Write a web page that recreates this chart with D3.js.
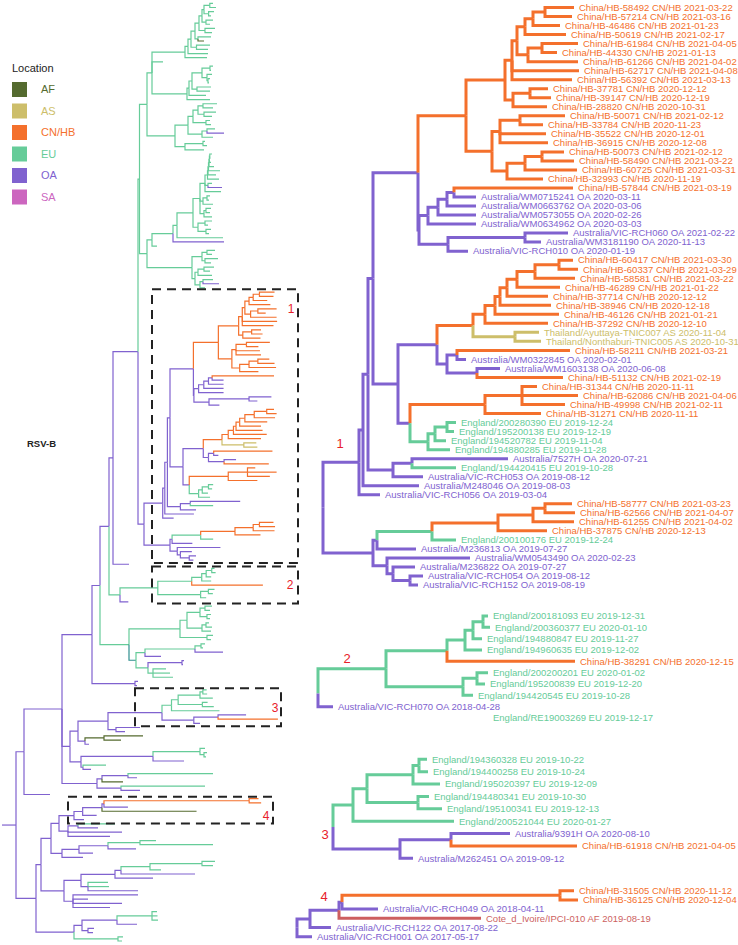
<!DOCTYPE html>
<html><head><meta charset="utf-8">
<script src="https://cdn.jsdelivr.net/npm/d3@7"></script>
<style>body{margin:0;background:#fff}svg{display:block}text{font-family:"Liberation Sans",Arial,Helvetica,sans-serif}</style>
</head><body><svg id="chart" width="738" height="945"></svg>
<script>
// ---------------- DATA ----------------
const legendKeys = ["AF","AS","CN/HB","EU","OA","SA"];
const legendColors = ["#556b2f","#cdbe6a","#f4702c","#66cc99","#8062cf","#cc66bf"];
const locNames = {F:"AF",A:"AS",C:"CN/HB",E:"EU",O:"OA",S:"SA",T:"EU"};

// clade rows: [id, parent, location, divergence from clade root, name, date]
const clade1Nodes = [
 ["R1","","O",0],["A","R1","O",36],["A2","A","O",40],["A3","A2","O",45],["A4","A3","O",50],
 ["C1","A4","O",95],["C1a","C1","C",143],["C1a1","C1a","C",182],["n1_9","C1a1","C",189],
 ["n1_7","n1_9","C",194],["n1_4","n1_7","C",202],["n1_3","n1_4","C",210],["n1_2","n1_3","C",222],
 ["l01","n1_2","C",251,"China/HB-58492","2021-03-22"],["l02","n1_2","C",249,"China/HB-57214","2021-03-16"],
 ["l03","n1_3","C",237,"China/HB-46486","2021-01-23"],["l04","n1_4","C",243,"China/HB-50619","2021-02-17"],
 ["n5_7","n1_7","C",205],["n5_6","n5_7","C",219],
 ["l05","n5_6","C",255,"China/HB-61984","2021-04-05"],["l06","n5_6","C",234,"China/HB-44330","2021-01-13"],
 ["l07","n5_7","C",255,"China/HB-61266","2021-04-02"],["l08","n1_9","C",256,"China/HB-62717","2021-04-08"],
 ["l09","n1_9","C",249,"China/HB-56392","2021-03-13"],
 ["n10_12","C1a1","C",190],["n10_11","n10_12","C",207],
 ["l10","n10_11","C",225,"China/HB-37781","2020-12-12"],["l11","n10_11","C",228,"China/HB-39147","2020-12-19"],
 ["l12","n10_12","C",224,"China/HB-28820","2020-10-31"],
 ["C1a2","C1a","C",169],["n13_16","C1a2","C",177],["n13_14","n13_16","C",197],
 ["l13","n13_14","C",242,"China/HB-50071","2021-02-12"],["l14","n13_14","C",220,"China/HB-33784","2020-11-23"],
 ["l15","n13_16","C",223,"China/HB-35522","2020-12-01"],["l16","n13_16","C",225,"China/HB-36915","2020-12-08"],
 ["n17_20","C1a2","C",184],["n17_19","n17_20","C",202],["n17_18","n17_19","C",219],
 ["l17","n17_18","C",241,"China/HB-50073","2021-02-12"],["l18","n17_18","C",251,"China/HB-58490","2021-03-22"],
 ["l19","n17_19","C",254,"China/HB-60725","2021-03-31"],["l20","n17_20","C",220,"China/HB-32993","2020-11-19"],
 ["C1b","C1","O",96],["n21_25","C1b","O",105],["n21_24","n21_25","O",115],["n21_23","n21_24","O",124],["n21_22","n21_23","O",131],
 ["l21","n21_22","C",250,"China/HB-57844","2021-03-19"],["l22","n21_22","O",153,"Australia/WM0715241","2020-03-11"],
 ["l23","n21_23","O",153,"Australia/WM0663762","2020-03-06"],["l24","n21_24","O",153,"Australia/WM0573055","2020-02-26"],
 ["l25","n21_25","O",153,"Australia/WM0634962","2020-03-03"],
 ["n26_28","C1b","O",125],["n26_27","n26_28","O",202],
 ["l26","n26_27","O",245,"Australia/VIC-RCH060","2021-02-22"],["l27","n26_27","O",218,"Australia/WM3181190","2020-11-13"],
 ["l28","n26_28","O",145,"Australia/VIC-RCH010","2020-01-19"],
 ["C2","A4","O",75],["C2a","C2","O",114],["C2a1","C2a","C",150],["n29_36","C2a1","C",162],["n29_35","n29_36","C",172],
 ["n29_34","n29_35","C",177],["n29_33","n29_34","C",184],["n29_32","n29_33","C",194],["n29_31","n29_32","C",212],["n29_30","n29_31","C",236],
 ["l29","n29_30","C",250,"China/HB-60417","2021-03-30"],["l30","n29_30","C",255,"China/HB-60337","2021-03-29"],
 ["l31","n29_31","C",252,"China/HB-58581","2021-03-22"],["l32","n29_32","C",237,"China/HB-46289","2021-01-22"],
 ["l33","n29_33","C",225,"China/HB-37714","2020-12-12"],["l34","n29_34","C",228,"China/HB-38946","2020-12-18"],
 ["l35","n29_35","C",236,"China/HB-46126","2021-01-21"],["l36","n29_36","C",225,"China/HB-37292","2020-12-10"],
 ["nTh","C2a1","A",192],
 ["l37","nTh","A",216,"Thailand/Ayuttaya-TNIC007","2020-11-04"],["l38","nTh","A",218,"Thailand/Nonthaburi-TNIC005","2020-10-31"],
 ["C2a2","C2a","O",124],["n39_40","C2a2","O",134],
 ["l39","n39_40","C",247,"China/HB-58211","2021-03-21"],["l40","n39_40","O",143,"Australia/WM0322845","2020-02-01"],
 ["n41_42","C2a2","O",154],
 ["l41","n41_42","O",177,"Australia/WM1603138","2020-06-08"],["l42","n41_42","C",240,"China/HB-51132","2021-02-19"],
 ["C2b","C2","O",87],["C2b1","C2b","C",162],["n43_45","C2b1","C",199],
 ["l43","n43_45","C",214,"China/HB-31344","2020-11-11"],["l44","n43_45","C",255,"China/HB-62086","2021-04-06"],
 ["l45","n43_45","C",242,"China/HB-49998","2021-02-11"],["l46","C2b1","C",218,"China/HB-31271","2020-11-11"],
 ["C2b2","C2b","E",105],["n47_49","C2b2","E",112],["n47_48","n47_49","E",124],
 ["l47","n47_48","E",133,"England/200280390","2019-12-24"],["l48","n47_48","E",131,"England/195200138","2019-12-19"],
 ["l49","n47_49","E",123,"England/194520782","2019-11-04"],["l50","C2b2","E",127,"England/194880285","2019-11-28"],
 ["X","A3","O",70],["X1","X","O",89],
 ["l51","X1","O",185,"Australia/7527H","2020-07-21"],["l52","X1","E",133,"England/194420415","2019-10-28"],
 ["l53","X","O",100,"Australia/VIC-RCH053","2019-08-12"],
 ["l54","A2","O",96,"Australia/M248046","2019-08-03"],
 ["l55","A","O",57,"Australia/VIC-RCH056","2019-03-04"],
 ["B","R1","O",50],["B1","B","O",54],["B1a","B1","E",109],["n56_59","B1a","C",175],["n56_58","n56_59","C",210],["n56_57","n56_58","C",222],
 ["l56","n56_57","C",249,"China/HB-58777","2021-03-23"],["l57","n56_57","C",252,"China/HB-62566","2021-04-07"],
 ["l58","n56_58","C",251,"China/HB-61255","2021-04-02"],["l59","n56_59","C",224,"China/HB-37875","2020-12-13"],
 ["l60","B1a","E",133,"England/200100176","2019-12-24"],["l61","B1","O",93,"Australia/M236813","2019-07-27"],
 ["B2","B","O",64],["l62","B2","O",147,"Australia/WM0543490","2020-02-23"],
 ["n63_65","B2","O",70],["l63","n63_65","O",92,"Australia/M236822","2019-07-27"],
 ["n64_65","n63_65","O",87],
 ["l64","n64_65","O",100,"Australia/VIC-RCH054","2019-08-12"],["l65","n64_65","O",95,"Australia/VIC-RCH152","2019-08-19"]
];

const clade2Nodes = [
 ["R2","","E",0],["S2a","R2","E",68],["m447","S2a","E",129],["m465","m447","E",147],["m473","m465","E",155],["m483","m473","E",165],
 ["k1","m483","E",170,"England/200181093","2019-12-31"],["k2","m483","E",172,"England/200360377","2020-01-10"],
 ["k3","m473","E",164,"England/194880847","2019-11-27"],["k4","m465","E",164,"England/194960635","2019-12-02"],
 ["k5","m447","C",257,"China/HB-38291","2020-12-15"],
 ["m463","S2a","E",145],["m477","m463","E",159],
 ["k6","m477","E",170,"England/200200201","2020-01-02"],["k7","m477","E",167,"England/195200839","2019-12-20"],
 ["k8","m463","E",155,"England/194420545","2019-10-28"],
 ["k9","R2","O",15,"Australia/VIC-RCH070","2018-04-28"],
 ["k10","R2","!E",170,"England/RE19003269","2019-12-17"]
];

const clade3Nodes = [
 ["R3","","O",0],["S3a","R3","E",20],["p367","S3a","E",34],["p413","p367","E",80],["p419","p413","E",86],
 ["j1","p419","E",94,"England/194360328","2019-10-22"],["j2","p419","E",95,"England/194400258","2019-10-24"],
 ["j3","p413","E",107,"England/195020397","2019-12-09"],
 ["p418","p367","E",85],
 ["j4","p418","E",96,"England/194480341","2019-10-30"],["j5","p418","E",109,"England/195100341","2019-12-13"],
 ["j6","S3a","E",121,"England/200521044","2020-01-27"],
 ["S3b","R3","O",67],["p451","S3b","O",118],
 ["j7","p451","O",177,"Australia/9391H","2020-08-10"],["j8","p451","C",244,"China/HB-61918","2021-04-05"],
 ["j9","S3b","O",80,"Australia/M262451","2019-09-12"]
];

const clade4Nodes = [
 ["R4","","O",0],["S4a","R4","O",13],["S4b","S4a","O",42],["S4c","S4b","O",45],["q12","S4c","C",263],
 ["h1","q12","C",277,"China/HB-31505","2020-11-12"],["h2","q12","C",281,"China/HB-36125","2020-12-04"],
 ["h3","S4c","O",81,"Australia/VIC-RCH049","2018-04-11"],
 ["h4","S4b","F",184,"Cote_d_Ivoire/IPCI-010","2019-08-19"],
 ["h5","S4a","O",34,"Australia/VIC-RCH122","2017-08-22"],
 ["h6","R4","O",15,"Australia/VIC-RCH001","2017-05-17"]
];

// full RSV-B tree (newick, location code + cumulative divergence; #n = clade n)
const nwG1 = "((((((((E:213,E:216)E:209.8,(E:214,E:211)E:208.6)E:204,(E:213,E:210)E:206)E:202,(E:215,E:212)E:205)E:199,(E:211,F:204)E:198)E:195,(E:210,E:208)E:196.5)E:191,E:208)E:188,E:207)E:185";
const nwG2 = "(((((E:213,E:211)E:210,(E:212,(E:210,E:209)E:208)E:207)E:202,(E:211,E:210)E:197)E:192,E:206)E:189,E:210)E:187";
const nwG3 = "(((((E:217,E:213)E:203,(E:216,E:212)E:204)E:198,(E:210,E:211)E:206)E:193,((E:215,O:224)E:207,E:213)E:202)E:188,((E:205,E:207)E:203,E:204)E:185)E:175";
const nwLadder = "((((((E:212,E:210.5)E:209.8,E:211)E:209.4,E:214)E:209,E:220)E:208.5,E:216)E:208,E:219)E:207.5";
const nwG4tail = ",(E:212,O:222)E:208,E:221)E:205,((E:210,E:209)E:207,E:213)E:203,((E:211,E:210)E:206,E:212)E:204)E:200,((E:212,E:208)E:205,(E:211,E:209)E:206)E:198)E:193,E:223)E:177,O:224)E:173,E:157)E:152";
const nwG5 = "(((E:215,E:212)E:207,(E:218,E:211)E:205)E:202,(((E:214,E:210)E:204,E:212)E:198,((E:213,O:219)E:203,E:205)E:200)E:195)E:192";
const nwG6a = "((((E:212,E:210)E:205,(E:211,E:210)E:207)E:200,((E:209,E:212)E:206,E:211)E:202)E:187,(E:213,E:211)E:207)E:180";
const nwG6b = "((((E:205,E:203)E:201,O:223)E:195,O:161)E:145,((O:184,O:183)O:182,(E:166,E:170,E:173)E:153)E:148)T:136";
const nwN108 = "(#3:162,(O:140,O:125)O:116)O:108";
const nwN85 = "((F:143,F:121)F:104,O:89)O:85";
const nwN81 = "(((E:205,(E:207,E:206)E:204)E:200,O:184)O:153,(E:106,O:91)O:83)O:81";
const nwN97 = "(((E:213,O:137)O:128,F:123)O:102,(E:205,O:140)O:121)O:97";
const nwN59 = "(#4:74,((E:115,O:98)O:78,O:122,O:110)O:68)O:59";
const nwN62b = "((((E:156,E:213)E:140,O:136)O:108,O:93)O:79,O:83)O:62";
const nwN81b = "(((((E:215,E:213)E:202,E:161)E:150,O:195)O:121,O:153)O:115,(E:108,E:109,O:138)O:88)O:81";
const nwN73 = "(O:138,O:88,O:122,O:110)O:73";
const nwNB2 = "((((E:157,E:157.5,E:158)E:152,O:137)O:117,(O:94,O:93)O:88)O:82,(E:123,E:122)E:118)O:74";

// ---------------- LAYOUT / STYLE ----------------
const panels = [
 {rows: clade1Nodes, rootX: 323, yRange: [7.5, 585], k: 0.52, num: "1", numDx: 17, numDy: -64},
 {rows: clade2Nodes, rootX: 318, yRange: [616, 718], k: 0.556, num: "2", numDx: 29, numDy: -35},
 {rows: clade3Nodes, rootX: 333, yRange: [759.3, 858.3], k: 0.475, num: "3", numDx: -8, numDy: 7},
 {rows: clade4Nodes, rootX: 297, yRange: [890.7, 936.7], k: 0.666, num: "4", numDx: 27, numDy: -31}
];
const boxes = [
 {clade: 1, x0: 152, x1: 298, padTop: 3, padBottom: 3, numDx: -7, numFrac: 0.07},
 {clade: 2, x0: 152, x1: 298, padTop: 2, padBottom: 1.5, numDx: -8, numFrac: 0.5},
 {clade: 3, x0: 135, x1: 281, padTop: 1.5, padBottom: 3, numDx: -6, numFrac: 0.5},
 {clade: 4, x0: 68, x1: 273, padTop: 2, padBottom: 4, numDx: -7, numFrac: 0.72}
];
const RED = "#e8202a";

const svg = d3.select("#chart");
const color = d3.scaleOrdinal().domain(legendKeys).range(legendColors);
function lineColor(code, side) {
  code = code.replace("!", "");
  if (code === "T") return "#2f8f8f";
  if (code === "F" && side === "right") return "#cd5f5f";
  return color(locNames[code]);
}

// ---------- newick parser ----------
function parseNewick(s) {
  let i = 0;
  function node() {
    const n = {children: []};
    if (s[i] === "(") {
      i++; n.children.push(node());
      while (s[i] === ",") { i++; n.children.push(node()); }
      i++;
    }
    let tok = "";
    while (i < s.length && !",():;".includes(s[i])) tok += s[i++];
    let num = "";
    if (s[i] === ":") { i++; while (i < s.length && !",();".includes(s[i])) num += s[i++]; }
    n.loc = tok.trim(); n.div = +num;
    return n;
  }
  return node();
}
const strat = d3.stratify().id(r => r[0]).parentId(r => r[1] || null);
function cladeTree(rows, base, k, tag) {
  const h = strat(rows);
  const conv = d => ({loc: d.data[2], div: base + d.data[3] * k, clade: tag,
    children: (d.children || []).filter(c => !c.data[2].startsWith("!")).map(conv)});
  return conv(h);
}
function embed(n) {
  if (n.loc[0] === "#") { const i = +n.loc.slice(1); const p = panels[i - 1]; return cladeTree(p.rows, n.div, p.k, i); }
  n.children = n.children.map(embed); return n;
}

const nwG4 = "((((((" + nwLadder + nwG4tail;
const nwTop = `(((${nwG1},E:163,${nwG2})E:152,${nwG3})E:147,(${nwG4},${nwG5})E:147)E:139.5`;
const nwG6 = `(${nwG6a},${nwG6b})E:129`;
const nwN70 = `((${nwN108},${nwN85})O:78,${nwN81})O:70`;
const nwNB = `(((${nwN59},${nwN62b})O:51,(${nwN81b},${nwN73})O:64)O:41,${nwNB2})O:36`;
const nwLeft = `(((((((((${nwTop},#1:144)O:138,O:129)O:113,#2:120)O:109,${nwG6})O:100,(O:138,O:137)O:135)O:92,${nwN70},${nwN97})O:62,O:50)O:24,${nwNB})O:16)O:2`;

// ---------- left tree ----------
const leftRoot = embed(parseNewick(nwLeft));
const lh = d3.hierarchy(leftRoot, d => d.children && d.children.length ? d.children : null);
const lLeaves = lh.leaves();
const yL = d3.scaleLinear().domain([0, lLeaves.length - 1]).range([3.3, 941]);
const xL = d3.scaleLinear().domain([0, 300]).range([0, 300]);
lLeaves.forEach((d, i) => d.py = yL(i));
lh.eachAfter(d => { if (d.children) d.py = (d.children[0].py + d.children[d.children.length - 1].py) / 2; });

const gL = svg.append("g");
gL.selectAll("path").data(lh.descendants().filter(d => d.parent)).join("path")
  .attr("d", d => `M${xL(d.parent.data.div)},${d.parent.py}V${d.py}H${xL(d.data.div)}`)
  .attr("fill", "none").attr("stroke", d => lineColor(d.data.loc, "left")).attr("stroke-width", 1.2);

// boxes
boxes.forEach(b => {
  const ys = lLeaves.filter(d => d.data.clade === b.clade).map(d => d.py);
  const y0 = d3.min(ys) - b.padTop, y1 = d3.max(ys) + b.padBottom;
  svg.append("rect").attr("x", b.x0).attr("y", y0).attr("width", b.x1 - b.x0).attr("height", y1 - y0)
    .attr("fill", "none").attr("stroke", "#222").attr("stroke-width", 2).attr("stroke-dasharray", "9,6");
  svg.append("text").attr("x", b.x1 + b.numDx).attr("y", y0 + (y1 - y0) * b.numFrac).attr("dy", "0.35em")
    .attr("text-anchor", "middle").attr("font-size", 12).attr("fill", RED).text(b.clade);
});

// ---------- right panels ----------
panels.forEach(p => {
  const root = strat(p.rows);
  const leaves = root.leaves();
  const y = d3.scaleLinear().domain([0, leaves.length - 1]).range(p.yRange);
  leaves.forEach((d, i) => d.py = y(i));
  root.eachAfter(d => { if (d.children) d.py = (d.children[0].py + d.children[d.children.length - 1].py) / 2; });
  const maxDiv = d3.max(root.descendants(), d => d.data[3]);
  const x = d3.scaleLinear().domain([0, maxDiv]).range([p.rootX, p.rootX + maxDiv]);
  const g = svg.append("g");
  g.selectAll("path").data(root.descendants().filter(d => d.parent && !d.data[2].startsWith("!"))).join("path")
    .attr("d", d => `M${x(d.parent.data[3])},${d.parent.py}V${d.py}H${x(d.data[3])}`)
    .attr("fill", "none").attr("stroke", d => lineColor(d.data[2], "right")).attr("stroke-width", 3);
  g.selectAll("text").data(leaves).join("text")
    .attr("x", d => x(d.data[3]) + 5).attr("y", d => d.py).attr("dy", "0.35em")
    .attr("font-size", 9.5).attr("fill", d => lineColor(d.data[2], "right"))
    .text(d => `${d.data[4]} ${locNames[d.data[2].replace("!", "")]} ${d.data[5]}`);
  svg.append("text").attr("x", p.rootX + p.numDx).attr("y", root.py + p.numDy).attr("dy", "0.35em")
    .attr("text-anchor", "middle").attr("font-size", 13).attr("fill", RED).text(p.num);
});

// ---------- legend & title ----------
const lg = svg.append("g");
lg.append("text").attr("x", 12).attr("y", 68).attr("dy", "0.35em").attr("font-size", 11).attr("fill", "#222").text("Location");
lg.selectAll("rect").data(legendKeys).join("rect")
  .attr("x", 12).attr("y", (d, i) => 82 + i * 21.5).attr("width", 15).attr("height", 15).attr("fill", d => color(d));
lg.selectAll("text.lab").data(legendKeys).join("text").attr("class", "lab")
  .attr("x", 41).attr("y", (d, i) => 89.5 + i * 21.5).attr("dy", "0.35em").attr("font-size", 11)
  .attr("fill", d => color(d)).text(d => d);
svg.append("text").attr("x", 27).attr("y", 444).attr("dy", "0.35em").attr("font-size", 9.5)
  .attr("font-weight", "bold").attr("fill", "#222").text("RSV-B");
</script></body></html>
